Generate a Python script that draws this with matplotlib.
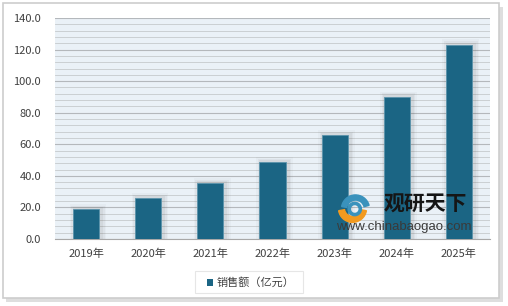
import matplotlib
matplotlib.use("Agg")
import matplotlib.pyplot as plt
from matplotlib.patches import Rectangle, Wedge
import numpy as np

plt.rcParams['font.family'] = ['Noto Sans CJK SC', 'DejaVu Sans']

years = ["2019年", "2020年", "2021年", "2022年", "2023年", "2024年", "2025年"]
sales = [18.8, 25.8, 35.3, 48.7, 65.8, 90.1, 123.2]
legend_label = "销售额（亿元）"

bar_color = "#1b6584"
text_color = "#404040"
W, H = 508, 306


def fbox(x0, y0, w, h):
    # pixel box (top-left origin) -> figure fraction
    return (x0 / W, 1 - (y0 + h) / H), w / W, h / H


fig = plt.figure(figsize=(5.08, 3.06), dpi=100)

# outer frame with a soft shadow
xy, w, h = fbox(6, 7, 497, 295)
fig.patches.append(Rectangle(xy, w, h, transform=fig.transFigure,
                             facecolor="#dedede", edgecolor="none", zorder=-3))
xy, w, h = fbox(3, 3, 496, 295)
fig.patches.append(Rectangle(xy, w, h, transform=fig.transFigure,
                             facecolor="white", edgecolor="#cdcdcd", linewidth=1.2, zorder=-2))

ax = fig.add_axes([55/W, 1 - 239/H, 435/W, 221/H])
ax.set_facecolor("#eaf1f7")

x = np.arange(len(years))
bw = 0.42
# shadow around bars
for i, v in enumerate(sales):
    for k, a in enumerate([0.07, 0.05, 0.035]):
        ax.bar(x[i] + 0.03, v + 1.2 + k, bw + 0.07 + k * 0.05, color="#505050", alpha=a,
               linewidth=0, zorder=2)
ax.bar(x, sales, bw, color=bar_color, edgecolor="#5a93ab", linewidth=0.6, zorder=3)

ax.set_xlim(-0.5, len(years) - 0.5)
ax.set_ylim(0, 140)
ax.set_yticks(np.arange(0, 141, 20))
ax.set_yticklabels([f"{v:.1f}" for v in np.arange(0, 141, 20)])
ax.set_yticks(np.arange(0, 141, 4), minor=True)
ax.set_xticks(x)
ax.set_xticklabels(years)
ax.grid(axis="y", which="major", color="#b4b8bc", linewidth=0.8, zorder=1)
ax.grid(axis="y", which="minor", color="#c6cacd", linewidth=0.6, zorder=1)
ax.set_axisbelow(True)
for s in ["top", "right", "left"]:
    ax.spines[s].set_visible(False)
ax.spines["bottom"].set_color("#a8a8a8")
ax.tick_params(axis="both", which="both", length=0, labelsize=8, colors=text_color)
ax.tick_params(axis="x", pad=7)
ax.tick_params(axis="y", pad=10)

# watermark
fig.text(425/W, 1 - 204/H, "观研天下", fontsize=15, fontweight="heavy", color="#151515",
         ha="center", va="center", zorder=5)
fig.text(404/W, 1 - 227/H, "www.chinabaogao.com", fontsize=9.5, color="#3a3a3a",
         ha="center", va="center", zorder=5, family="Liberation Sans")
xy, w, h = fbox(334, 194, 40, 30)
logo = fig.add_axes([xy[0], xy[1], w, h], zorder=5)
logo.set_xlim(-1.35, 1.35)
logo.set_ylim(-1, 1)
logo.set_aspect("equal")
logo.axis("off")
logo.patch.set_alpha(0)
logo.add_patch(Wedge((0.1, 0.0), 0.95, 15, 170, width=0.35, color="#3a92bc"))
logo.add_patch(Wedge((-0.1, 0.05), 0.95, 190, 350, width=0.4, color="#f29a1f"))
logo.add_patch(Wedge((0.05, 0.0), 0.45, 0, 360, width=0.15, color="#3a92bc"))

# legend box
xy, w, h = fbox(195, 271, 108, 22)
fig.patches.append(Rectangle(xy, w, h, transform=fig.transFigure,
                             facecolor="white", edgecolor="#e6e6e6", linewidth=0.8, zorder=1))
xy, w, h = fbox(207, 279, 6, 7)
fig.patches.append(Rectangle(xy, w, h, transform=fig.transFigure,
                             facecolor=bar_color, edgecolor="none", zorder=2))
fig.text(217/W, 1 - 282/H, legend_label, fontsize=8, color=text_color, va="center", ha="left")

fig.savefig("out.png", dpi=100)
